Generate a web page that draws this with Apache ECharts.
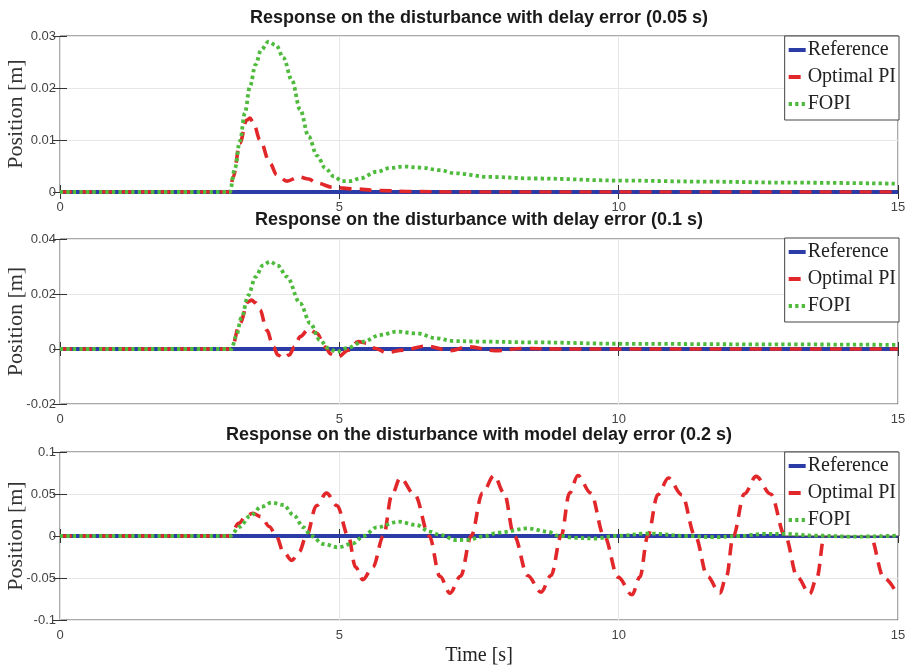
<!DOCTYPE html>
<html>
<head>
<meta charset="utf-8">
<script src="https://cdn.jsdelivr.net/npm/echarts@6/dist/echarts.min.js"></script>
<style>
  html, body { margin: 0; padding: 0; background: #fff; }
  #chart { width: 910px; height: 669px; }
</style>
</head>
<body>
<div id="chart"></div>
<script>
// Panel titles
const titles = [
  'Response on the disturbance with delay error (0.05 s)',
  'Response on the disturbance with delay error (0.1 s)',
  'Response on the disturbance with model delay error (0.2 s)'
];
const seriesNames = ['Reference', 'Optimal PI', 'FOPI'];

// Axis ranges and tick steps
const timeRange = [0, 15, 5];
const yRanges = [
  [0, 0.03, 0.01],
  [-0.02, 0.04, 0.02],
  [-0.1, 0.1, 0.05]
];

// Panel 1: delay error 0.05 s  ([time s, position m])
const p1Reference = [[0, 0], [15, 0]];
const p1OptimalPI = [[0, 0], [3.04, 0], [3.1, 0.0029], [3.22, 0.0094], [3.34, 0.0138], [3.4, 0.0142], [3.46, 0.0134],
  [3.58, 0.010], [3.76, 0.0055], [3.88, 0.0033], [4.06, 0.0021], [4.28, 0.0029], [4.45, 0.0025], [4.6, 0.0017],
  [4.89, 0.0009], [5.25, 0.0006], [5.67, 0.0003], [6.3, 0.0001], [7, 0], [15, 0]];
const p1FOPI = [[0, 0], [3.04, 0], [3.13, 0.0045], [3.22, 0.0098], [3.31, 0.0152], [3.4, 0.0203], [3.5, 0.0245],
  [3.6, 0.0273], [3.73, 0.0289], [3.87, 0.0282], [4.0, 0.0258], [4.15, 0.0215], [4.3, 0.0158], [4.45, 0.0107],
  [4.6, 0.0070], [4.75, 0.0046], [4.9, 0.0030], [5.05, 0.0021], [5.2, 0.0021], [5.37, 0.0026], [5.67, 0.0039],
  [5.9, 0.0046], [6.15, 0.0049], [6.45, 0.0047], [6.8, 0.0042], [7.07, 0.0036], [7.67, 0.0029], [8.5, 0.0026],
  [10.05, 0.0022], [11.5, 0.0020], [13.03, 0.0018], [15, 0.0016]];

// Panel 2: delay error 0.1 s
const p2Reference = [[0, 0], [15, 0]];
const p2OptimalPI = [[0, 0], [3.07, 0], [3.22, 0.0093], [3.37, 0.0172], [3.43, 0.0178], [3.5, 0.0168], [3.58, 0.0142],
  [3.7, 0.0069], [3.82, 0.0008], [3.9, -0.0022], [4.0, -0.0034], [4.1, -0.0022], [4.2, 0.0008], [4.3, 0.0045],
  [4.45, 0.0072], [4.6, 0.0057], [4.74, 0.0008], [4.85, -0.0018], [4.98, -0.0028], [5.16, -0.0004], [5.34, 0.0027],
  [5.49, 0.0021], [5.65, 0.0002], [5.84, -0.0013], [6.14, -0.0004], [6.56, 0.0011], [6.98, -0.0006], [7.31, 0.0008],
  [7.79, -0.0006], [8.3, 0.0002], [9, 0], [15, 0]];
const p2FOPI = [[0, 0], [3.07, 0], [3.15, 0.0045], [3.25, 0.0115], [3.37, 0.0195], [3.5, 0.0262], [3.63, 0.0304],
  [3.76, 0.0318], [3.9, 0.0303], [4.06, 0.0263], [4.3, 0.0166], [4.48, 0.0093], [4.65, 0.0033], [4.8, 0.0003],
  [4.95, -0.001], [5.13, 0.0003], [5.43, 0.0027], [5.73, 0.0051], [6.03, 0.0063], [6.38, 0.0057], [6.74, 0.0039],
  [7.04, 0.0029], [7.5, 0.0027], [8.5, 0.0024], [10.05, 0.0019], [12.5, 0.0017], [15, 0.0015]];

// Panel 3: model delay error 0.2 s
const p3Reference = [[0, 0], [15, 0]];
const p3OptimalPI = [[0, 0], [3.04, 0], [3.2, 0.015], [3.33, 0.024], [3.45, 0.027], [3.6, 0.023], [3.75, 0.011],
  [3.87, 0], [4.0, -0.019], [4.15, -0.029], [4.28, -0.019], [4.41, 0], [4.59, 0.036], [4.77, 0.051], [4.96, 0.036],
  [5.16, 0], [5.29, -0.037], [5.42, -0.052], [5.6, -0.037], [5.79, 0], [5.94, 0.049], [6.09, 0.069], [6.35, 0.049],
  [6.61, 0], [6.8, -0.048], [6.98, -0.068], [7.17, -0.048], [7.36, 0], [7.56, 0.051], [7.77, 0.072], [7.95, 0.051],
  [8.13, 0], [8.37, -0.047], [8.61, -0.067], [8.79, -0.047], [8.97, 0], [9.12, 0.051], [9.27, 0.072], [9.5, 0.051],
  [9.74, 0], [9.99, -0.049], [10.24, -0.070], [10.38, -0.049], [10.52, 0], [10.7, 0.049], [10.89, 0.069],
  [11.13, 0.049], [11.37, 0], [11.59, -0.048], [11.81, -0.068], [11.93, -0.048], [12.05, 0], [12.25, 0.050],
  [12.46, 0.071], [12.72, 0.050], [12.98, 0], [13.2, -0.049], [13.42, -0.069], [13.55, -0.049], [13.68, 0],
  [13.87, 0.05], [14.05, 0.071], [14.28, 0.05], [14.5, 0], [14.75, -0.05], [15, -0.071]];
const p3FOPI = [[0, 0], [3.04, 0], [3.22, 0.011], [3.4, 0.0238], [3.61, 0.035], [3.79, 0.0397], [4.0, 0.0369],
  [4.18, 0.025], [4.36, 0.0103], [4.5, 0], [4.71, -0.0095], [4.98, -0.0135], [5.25, -0.0087], [5.43, 0],
  [5.67, 0.0103], [6.06, 0.017], [6.38, 0.0131], [6.62, 0.0052], [6.8, 0.0012], [7.1, -0.0048], [7.3, -0.0045],
  [7.58, -0.0005], [7.85, 0.004], [8.38, 0.009], [8.74, 0.005], [8.91, 0.0005], [9.2, -0.0022], [9.58, -0.003],
  [9.95, 0], [10.53, 0.003], [11.25, 0], [11.72, -0.0015], [12.14, 0], [12.62, 0.0025], [12.97, 0.0025],
  [13.5, 0.0005], [14.2, -0.0008], [15, 0.0005]];

const panelData = [
  [p1Reference, p1OptimalPI, p1FOPI],
  [p2Reference, p2OptimalPI, p2FOPI],
  [p3Reference, p3OptimalPI, p3FOPI]
];

// Layout of the three stacked plots
const gridBoxes = [
  { left: 60, top: 36, width: 838, height: 156 },
  { left: 60, top: 239, width: 838, height: 165 },
  { left: 60, top: 452, width: 838, height: 168 }
];
const titleTops = [9, 211, 426];
const legendTops = [36, 238, 452];

const sans = "'Liberation Sans', Arial, sans-serif";
const serif = "'Liberation Serif', 'Times New Roman', serif";

const lineStyles = [
  { color: '#2b3ca6', width: 4, type: 'solid' },
  { color: '#e2272b', width: 3.6, type: [12, 8] },
  { color: '#4fbb3d', width: 3.8, type: [3.3, 3.2] }
];

const option = {
  animation: false,
  backgroundColor: '#fff',
  title: titles.map((t, i) => ({
    text: t,
    left: 479,
    top: titleTops[i],
    textAlign: 'center',
    padding: 0,
    textStyle: { fontFamily: sans, fontWeight: 'bold', fontSize: 18, color: '#1a1a1a' }
  })),
  legend: legendTops.map(top => ({
    data: seriesNames,
    orient: 'vertical',
    right: 11,
    top: top,
    padding: [4, 3, 6, 2],
    itemGap: 7,
    itemWidth: 17,
    itemHeight: 20,
    backgroundColor: '#fff',
    borderColor: '#444',
    borderWidth: 1,
    borderRadius: 0,
    selectedMode: false,
    itemStyle: { opacity: 0 },
    lineStyle: { width: 4 },
    textStyle: { fontFamily: serif, fontSize: 20, color: '#222', padding: [0, 0, 0, -3] }
  })),
  grid: gridBoxes.map(g => Object.assign({
    show: true, borderColor: '#555', borderWidth: 1, backgroundColor: 'transparent',
    containLabel: false, outerBoundsMode: 'none'
  }, g)),
  xAxis: [],
  yAxis: [],
  series: []
};

gridBoxes.forEach((g, i) => {
  const last = i === gridBoxes.length - 1;
  option.xAxis.push({
    type: 'value', gridIndex: i, min: timeRange[0], max: timeRange[1], interval: timeRange[2],
    axisLine: { show: false },
    axisTick: { show: true, inside: true, length: 7, lineStyle: { color: '#333' } },
    splitLine: { show: true, lineStyle: { color: '#e6e6e6', width: 1 } },
    axisLabel: { color: '#444', fontSize: 13, fontFamily: sans, margin: 9 },
    name: last ? 'Time [s]' : '',
    nameLocation: 'middle',
    nameGap: 26,
    nameMoveOverlap: false,
    nameTextStyle: { fontFamily: serif, fontSize: 20, color: '#222' }
  });
  option.xAxis.push({
    type: 'value', gridIndex: i, position: 'top', min: timeRange[0], max: timeRange[1], interval: timeRange[2],
    axisLine: { show: false },
    axisTick: { show: true, inside: true, length: 7, lineStyle: { color: '#333' } },
    splitLine: { show: false },
    axisLabel: { show: false }
  });
  const yr = yRanges[i];
  option.yAxis.push({
    type: 'value', gridIndex: i, min: yr[0], max: yr[1], interval: yr[2],
    axisLine: { show: false },
    axisTick: { show: true, inside: true, length: 7, lineStyle: { color: '#333' } },
    splitLine: { show: true, lineStyle: { color: '#e6e6e6', width: 1 } },
    axisLabel: { color: '#444', fontSize: 13, fontFamily: sans, margin: 4,
      formatter: v => String(parseFloat(v.toFixed(4))) },
    name: 'Position [m]',
    nameLocation: 'middle',
    nameRotate: 90,
    nameGap: 33,
    nameMoveOverlap: false,
    nameTextStyle: { fontFamily: serif, fontSize: 22, color: '#333' }
  });
  option.yAxis.push({
    type: 'value', gridIndex: i, position: 'right', min: yr[0], max: yr[1], interval: yr[2],
    axisLine: { show: false },
    axisTick: { show: true, inside: true, length: 7, lineStyle: { color: '#333' } },
    splitLine: { show: false },
    axisLabel: { show: false }
  });
  panelData[i].forEach((data, k) => {
    option.series.push({
      name: seriesNames[k],
      type: 'line',
      xAxisIndex: i * 2,
      yAxisIndex: i * 2,
      data: data,
      showSymbol: false,
      symbol: 'none',
      smooth: k === 0 ? false : 0.35,
      smoothMonotone: 'x',
      lineStyle: Object.assign({ cap: 'butt', join: 'round' }, lineStyles[k]),
      itemStyle: { color: lineStyles[k].color },
      z: 2 + k
    });
  });
});

const chart = echarts.init(document.getElementById('chart'), null, { renderer: 'canvas' });
chart.setOption(option);
</script>
</body>
</html>
